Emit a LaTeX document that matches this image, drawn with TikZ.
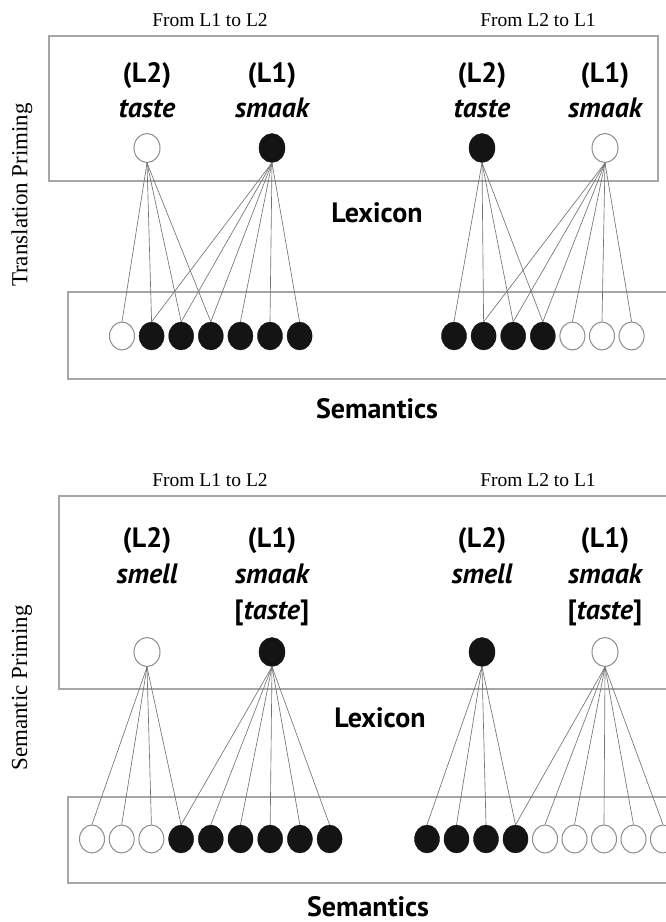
\documentclass[tikz,border=0pt]{standalone}
\usepackage{fontspec}
\setmainfont{Liberation Serif}
\newfontfamily\lexfont{PT Sans}
\usetikzlibrary{shapes.geometric}

\begin{document}
\begin{tikzpicture}[x=1pt,y=-1pt,
layerbox/.style={draw=black!35, line width=1.2pt},
lexon/.style={ellipse, fill=black!92, draw=black!92, minimum width=26pt, minimum height=29pt, inner sep=0pt},
lexoff/.style={ellipse, fill=white, draw=black!45, line width=1pt, minimum width=26pt, minimum height=29pt, inner sep=0pt},
semon/.style={lexon, minimum width=25pt, minimum height=28pt},
semoff/.style={lexoff, minimum width=25pt, minimum height=28pt},
link/.style={draw=black!55, line width=0.65pt},
word/.style={font=\lexfont\bfseries\fontsize{28}{32}\selectfont, inner sep=0pt, anchor=base},
layername/.style={font=\lexfont\bfseries\fontsize{28}{32}\selectfont, inner sep=0pt, anchor=base},
direction/.style={font=\fontsize{19.5}{22}\selectfont, inner sep=0pt},
priming/.style={font=\fontsize{23}{26}\selectfont, rotate=90, inner sep=0pt}
]
\useasboundingbox (0,0) rectangle (666,922);
\clip (0,0) rectangle (666,922);

% Translation priming
\node[direction] (td1) at (210,20) {From L1 to L2};
\node[direction] (td2) at (538,20) {From L2 to L1};
\node[priming] (tp) at (22,195) {Translation Priming};
\draw[layerbox] (49,36) rectangle (658,181);
\draw[layerbox] (68,292) rectangle (700,379);
\node[layername] (tlex) at (377,222) {Lexicon};
\node[layername] (tsem) at (377,418) {Semantics};

\node[word] at (147,82) {(L2)};
\node[word] at (147,117) {\itshape taste};
\node[word] at (272,82) {(L1)};
\node[word] at (272,117) {\itshape smaak};
\node[word] at (482,82) {(L2)};
\node[word] at (482,117) {\itshape taste};
\node[word] at (605,82) {(L1)};
\node[word] at (605,117) {\itshape smaak};

\node[lexoff] (t1) at (147,148) {};
\node[lexon] (t2) at (272,148) {};
\node[lexon] (t3) at (482,148) {};
\node[lexoff] (t4) at (605,148) {};

\foreach \st [count=\i] in {semoff,semon,semon,semon,semon,semon,semon}
	\node[\st] (ta\i) at ({122+29.6*(\i-1)},336) {};
\foreach \st [count=\i] in {semon,semon,semon,semon,semoff,semoff,semoff}
	\node[\st] (tb\i) at ({454+29.6*(\i-1)},336) {};

\foreach \i in {1,...,4} \draw[link] (t1.south) -- (ta\i.north);
\foreach \i in {2,...,7} \draw[link] (t2.south) -- (ta\i.north);
\foreach \i in {1,...,4} \draw[link] (t3.south) -- (tb\i.north);
\foreach \i in {2,...,7} \draw[link] (t4.south) -- (tb\i.north);

% Semantic priming
\node[direction] (sd1) at (210,480) {From L1 to L2};
\node[direction] (sd2) at (538,480) {From L2 to L1};
\node[priming] (sp) at (22,688) {Semantic Priming};
\draw[layerbox] (59,496) rectangle (700,689);
\draw[layerbox] (68,797) rectangle (700,883);
\node[layername] (slex) at (380,727) {Lexicon};
\node[layername] (ssem) at (368,916) {Semantics};

\node[word] at (147,547) {(L2)};
\node[word] at (147,583) {\itshape smell};
\node[word] at (272,547) {(L1)};
\node[word] at (272,583) {\itshape smaak};
\node[word] at (272,619) {[\textit{taste}]};
\node[word] at (482,547) {(L2)};
\node[word] at (482,583) {\itshape smell};
\node[word] at (605,547) {(L1)};
\node[word] at (605,583) {\itshape smaak};
\node[word] at (605,619) {[\textit{taste}]};

\node[lexoff] (s1) at (147,652) {};
\node[lexon] (s2) at (272,652) {};
\node[lexon] (s3) at (482,652) {};
\node[lexoff] (s4) at (605,652) {};

\foreach \st [count=\i] in {semoff,semoff,semoff,semon,semon,semon,semon,semon,semon}
	\node[\st] (sa\i) at ({92+29.7*(\i-1)},839) {};
\foreach \st [count=\i] in {semon,semon,semon,semon,semoff,semoff,semoff,semoff,semoff}
	\node[\st] (sb\i) at ({427+29.5*(\i-1)},839) {};

\foreach \i in {1,...,4} \draw[link] (s1.south) -- (sa\i.north);
\foreach \i in {4,...,9} \draw[link] (s2.south) -- (sa\i.north);
\foreach \i in {1,...,4} \draw[link] (s3.south) -- (sb\i.north);
\foreach \i in {4,...,9} \draw[link] (s4.south) -- (sb\i.north);
\end{tikzpicture}
\end{document}
